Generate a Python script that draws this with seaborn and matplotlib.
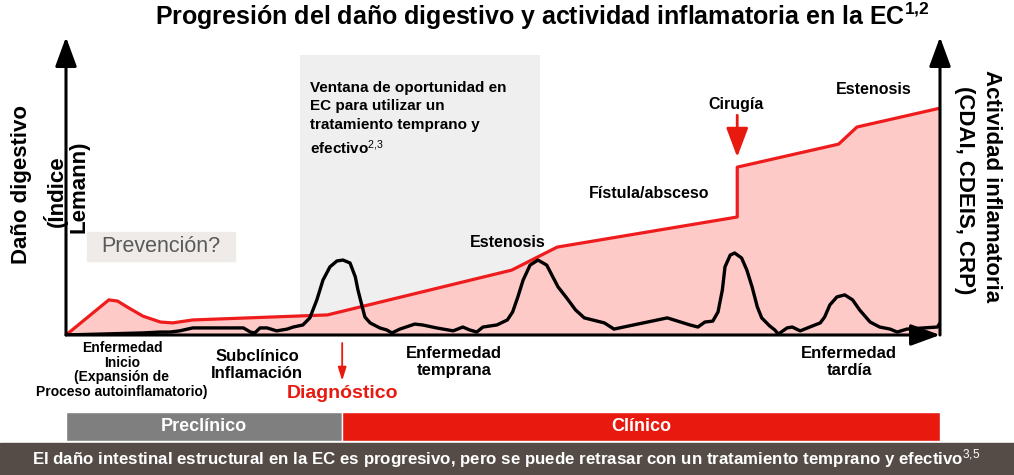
import seaborn as sns
import pandas as pd
import matplotlib.pyplot as plt
from matplotlib.patches import Rectangle

# Datos (eje x: tiempo 0-100, eje y: 0-100)
dano_x = [0, 4.9, 5.9, 7.0, 8.8, 10.8, 12.2, 14.5, 29.9, 51.0, 56.2, 76.8, 76.8, 88.4, 90.5, 100]
dano_y = [0, 11.9, 11.5, 9.5, 6.4, 4.4, 4.1, 5.1, 6.8, 22.0, 29.8, 40.0, 56.9, 64.7, 70.5, 76.9]

actividad_x = [0, 8.8, 10.8, 11.9, 13.0, 14.5, 16.5, 20.3, 21.1, 21.6, 22.2, 23.0, 24.1, 25.3,
               26.0, 27.1, 27.9, 28.7, 29.4, 30.2, 31.0, 31.7, 32.5, 33.1, 33.4, 33.9, 34.2,
               34.8, 35.9, 36.7, 37.3, 38.2, 39.9, 40.8, 42.4, 44.3, 45.4, 46.2, 47.0, 47.7,
               49.3, 50.5, 51.1, 51.7, 52.3, 53.1, 54.0, 55.0, 55.7, 56.3, 57.3, 58.3, 59.3,
               61.6, 62.7, 63.8, 68.8, 71.4, 72.3, 73.1, 74.0, 74.6, 75.1, 75.4, 76.0, 76.5,
               77.3, 77.9, 78.5, 79.1, 79.6, 80.5, 81.1, 81.5, 82.5, 83.1, 84.0, 85.1, 86.3,
               86.8, 87.4, 88.2, 89.1, 90.0, 90.8, 92.0, 93.1, 94.3, 95.1, 96.2, 98.1, 99.7, 100]
actividad_y = [0, 0.7, 1.0, 1.0, 1.4, 2.4, 2.4, 2.4, 1.0, 0.7, 2.4, 2.4, 1.4, 2.0,
               2.7, 3.4, 5.8, 11.9, 18.6, 23.1, 25.1, 25.4, 24.4, 19.7, 15.3, 9.5, 6.1,
               4.1, 2.4, 1.7, 0.7, 2.0, 3.7, 3.4, 2.4, 1.4, 2.7, 1.7, 1.0, 2.7,
               3.4, 5.1, 7.8, 12.9, 18.6, 23.7, 25.4, 23.7, 19.7, 16.3, 12.5, 8.5, 5.8,
               4.1, 2.0, 2.7, 5.8, 3.4, 2.7, 4.4, 4.7, 7.8, 15.3, 23.1, 27.1, 27.8,
               26.1, 22.0, 16.3, 9.5, 5.8, 3.1, 1.7, 0.3, 2.4, 2.7, 1.4, 2.7, 4.1,
               6.1, 10.2, 12.9, 13.6, 11.9, 8.5, 4.4, 2.7, 2.0, 1.0, 2.0, 2.4, 2.7, 4.1]

fases = ["Preclínico", "Clínico"]
fase_inicio = [0, 31.6]
fase_fin = [31.6, 100]
fase_colores = ["#7f7f7f", "#e8190f"]

diagnostico_x = 31.6
cirugia_x = 76.8
ventana_x = [26.8, 54.2]

W, H = 1014, 475
ROJO = "#ee1c1c"

sns.set_theme(style="white")
plt.rcParams["font.family"] = ["Liberation Sans", "DejaVu Sans"]
plt.rcParams["mathtext.fontset"] = "custom"
plt.rcParams["mathtext.rm"] = "Liberation Sans"
plt.rcParams["mathtext.bf"] = "Liberation Sans:bold"
plt.rcParams["mathtext.it"] = "Liberation Sans:italic"

fig = plt.figure(figsize=(W / 100, H / 100), dpi=100)
fig.patch.set_facecolor("white")


def px(x, y):
    return x / W, 1 - y / H


def txt(x, y, s, **kw):
    kw.setdefault("ha", "center")
    kw.setdefault("va", "center")
    kw.setdefault("fontweight", "bold")
    kw.setdefault("color", "black")
    fig.text(*px(x, y), s, **kw)


# grafico principal
ax = fig.add_axes([66 / W, 140 / H, 874 / W, 295 / H])
ax.axis("off")

ax.axvspan(ventana_x[0], ventana_x[1], ymin=0, ymax=0.949, color="#efefef", lw=0, zorder=0)
ax.fill_between(dano_x, dano_y, 0, color="#fdcac8", lw=0, zorder=1)

df_dano = pd.DataFrame({"x": dano_x, "y": dano_y})
df_act = pd.DataFrame({"x": actividad_x, "y": actividad_y})
sns.lineplot(data=df_dano, x="x", y="y", sort=False, estimator=None, color=ROJO,
             lw=2.3, ax=ax, zorder=3)
sns.lineplot(data=df_act, x="x", y="y", sort=False, estimator=None, color="black",
             lw=2.4, ax=ax, zorder=4)
for ln in ax.lines:
    ln.set_solid_joinstyle("round")
    ln.set_solid_capstyle("round")
ax.set_xlim(0, 100)
ax.set_ylim(0, 100)

flecha = dict(arrowstyle="-|>,head_length=0.9,head_width=0.33", color="black", lw=2.2,
              mutation_scale=20, shrinkA=0, shrinkB=0)
ax.annotate("", xy=(0, 1.01), xytext=(0, 0), xycoords="axes fraction", arrowprops=flecha, zorder=6)
ax.annotate("", xy=(1, 1.01), xytext=(1, 0), xycoords="axes fraction", arrowprops=flecha, zorder=6)
ax.annotate("", xy=(1.0, 0), xytext=(0, 0), xycoords="axes fraction", arrowprops=flecha, zorder=6)

# flecha de cirugia
ax.annotate("", xy=(cirugia_x, 60.3), xytext=(cirugia_x, 74.5),
            arrowprops=dict(arrowstyle="-|>,head_length=1.2,head_width=0.45", color="#e8190f",
                            lw=2.0, mutation_scale=15, shrinkA=0, shrinkB=0))

# flecha de diagnostico
ax.annotate("", xy=(diagnostico_x, -15.5), xytext=(diagnostico_x, -2.7),
            annotation_clip=False,
            arrowprops=dict(arrowstyle="-|>,head_length=0.8,head_width=0.25", color="#e8190f",
                            lw=1.3, mutation_scale=10, shrinkA=0, shrinkB=0))

# barra de fases
bx = fig.add_axes([66 / W, 34 / H, 874 / W, 29 / H])
bx.barh([0, 0], [f - i for i, f in zip(fase_inicio, fase_fin)], left=fase_inicio,
        color=fase_colores, height=1)
bx.set_xlim(0, 100)
bx.set_ylim(-0.5, 0.5)
bx.axis("off")
for nombre, i, f in zip(fases, fase_inicio, fase_fin):
    bx.text((i + f) / 2, 0, nombre, ha="center", va="center", color="white",
            fontsize=13, fontweight="bold")

# banda inferior
fig.patches.append(Rectangle((0, 0), 1, 32 / H, transform=fig.transFigure,
                             color="#564c47", zorder=0))
txt(506, 459, "El daño intestinal estructural en la EC es progresivo, pero se puede retrasar "
    "con un tratamiento temprano y efectivo$^{\\mathrm{3{,}5}}$", color="white", fontsize=12.2)

# titulo
txt(542, 16, "Progresión del daño digestivo y actividad inflamatoria en la EC$^{\\mathbf{1{,}2}}$",
    fontsize=18)

# ejes
txt(22, 184, "Daño digestivo", rotation=90, fontsize=16)
txt(55, 191, "(Índice", rotation=90, fontsize=16)
txt(79, 187, "Lemann)", rotation=90, fontsize=16)
txt(992, 186, "Actividad inflamatoria", rotation=-90, fontsize=16)
txt(964, 190, "(CDAI, CDEIS, CRP)", rotation=-90, fontsize=16)

# prevencion
fig.patches.append(Rectangle(px(87, 261), 148 / W, 29 / H, transform=fig.transFigure,
                             color="#eeebe9", zorder=0))
txt(161, 246, "Prevención?", fontweight="normal", color="#595959", fontsize=15.5)

# ventana
txt(310, 81, "Ventana de oportunidad en\nEC para utilizar un\ntratamiento temprano y\n"
    "efectivo$^{\\mathrm{2{,}3}}$", ha="left", va="top", fontsize=11, linespacing=1.4)

# eventos
txt(508, 243, "Estenosis", fontsize=11.5)
txt(649, 193, "Fístula/absceso", fontsize=11.5)
txt(736, 105, "Cirugía", fontsize=11.5)
txt(874, 89, "Estenosis", fontsize=11.5)

# etapas
txt(122, 370, "Enfermedad\nInicio\n(Expansión de\nProceso autoinflamatorio)",
    fontsize=10, linespacing=1.05)
txt(257, 365, "Subclínico\nInflamación", fontsize=12, linespacing=1.15)
txt(454, 362, "Enfermedad\ntemprana", fontsize=12, linespacing=1.15)
txt(849, 362, "Enfermedad\ntardía", fontsize=12, linespacing=1.15)
txt(342, 394, "Diagnóstico", color="#e8190f", fontsize=14)

fig.savefig("out.png", dpi=100)
